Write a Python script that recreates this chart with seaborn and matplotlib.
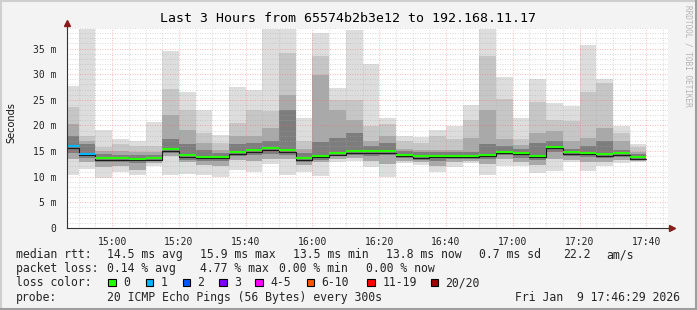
import numpy as np
import pandas as pd
import matplotlib
matplotlib.use("Agg")
import matplotlib.pyplot as plt
import matplotlib.transforms as mtransforms
from matplotlib.patches import Rectangle
from matplotlib.lines import Line2D
from matplotlib.ticker import MultipleLocator, FixedLocator, FuncFormatter
import seaborn as sns

# ---------------- data (ms) ----------------
sample_end = pd.date_range("2026-01-09 14:50", periods=35, freq="5min")
ping_max = [27.6, 38.8, 19.2, 17.3, 16.9, 20.6, 34.6, 26.6, 23.0, 18.2,
            27.4, 27.0, 38.8, 38.8, 21.5, 38.1, 27.3, 38.7, 32.0, 21.5,
            17.9, 17.7, 19.2, 19.9, 23.9, 38.8, 29.4, 21.5, 29.1, 24.4,
            23.7, 35.7, 29.1, 19.9, 16.3]
up_light = [23.6, 17.9, 15.7, 16.3, 16.0, 16.0, 27.2, 23.1, 18.6, 16.5,
            20.5, 23.1, 22.8, 34.1, 17.0, 33.6, 25.0, 25.0, 19.9, 20.2,
            17.0, 16.5, 17.9, 17.3, 21.0, 33.6, 25.2, 17.3, 24.5, 21.1,
            20.8, 26.6, 28.2, 18.6, 15.7]
up_mid = [20.2, 17.0, 15.0, 15.0, 14.8, 14.9, 22.1, 19.2, 16.5, 15.2,
          17.9, 17.9, 19.5, 26.0, 15.5, 29.9, 23.1, 21.1, 17.0, 17.9,
          15.5, 15.3, 15.3, 15.3, 17.6, 23.1, 17.3, 16.1, 18.6, 18.9,
          16.9, 17.6, 19.5, 16.9, 14.8]
up_dark = [17.9, 16.3, 14.5, 14.3, 14.2, 14.3, 17.3, 16.3, 15.2, 14.6,
           16.3, 16.5, 17.0, 23.1, 14.6, 16.8, 17.6, 18.5, 16.0, 16.6,
           15.0, 14.8, 14.8, 14.8, 14.9, 16.3, 16.0, 15.5, 16.6, 16.9,
           15.5, 16.0, 16.9, 15.3, 14.4]
median = [15.9, 14.5, 13.6, 13.6, 13.5, 13.6, 15.4, 14.2, 13.9, 13.9,
          14.8, 15.2, 15.6, 15.2, 13.6, 14.1, 14.6, 15.0, 15.0, 15.0,
          14.3, 14.0, 14.1, 14.1, 14.1, 14.3, 14.9, 14.7, 14.1, 15.8,
          14.8, 14.7, 14.4, 14.6, 13.8]
low_dark = [14.6, 13.6, 12.8, 12.8, 12.6, 13.0, 14.6, 13.3, 13.0, 13.1,
            14.0, 14.2, 14.5, 14.2, 12.9, 13.3, 14.0, 14.3, 14.1, 14.2,
            13.6, 13.3, 13.0, 13.4, 13.5, 13.4, 14.2, 13.7, 13.2, 14.8,
            14.0, 13.8, 13.6, 13.8, 13.3]
low_mid = [13.4, 12.8, 11.8, 12.1, 11.4, 12.6, 14.1, 12.8, 12.2, 12.0,
           13.2, 13.0, 13.4, 13.4, 12.2, 12.8, 13.4, 13.6, 13.0, 12.5,
           13.0, 12.8, 12.1, 12.8, 13.0, 12.5, 13.4, 12.8, 12.2, 13.5,
           13.3, 12.8, 12.9, 13.2, 13.0]
ping_min = [10.4, 11.5, 9.8, 11.0, 10.3, 12.1, 10.4, 10.6, 10.3, 9.9,
            11.3, 11.0, 12.5, 10.4, 11.0, 10.2, 12.8, 13.0, 11.9, 10.0,
            12.7, 12.3, 11.0, 11.8, 12.7, 10.4, 12.1, 12.0, 10.8, 11.2,
            12.8, 11.1, 12.1, 12.7, 12.8]
loss = [1, 1, 0, 0, 0, 0, 0, 0, 0, 0, 0, 0, 0, 0, 0, 0, 0, 0, 0, 0,
        0, 0, 0, 0, 0, 0, 0, 0, 0, 0, 0, 0, 0, 0, 0]

loss_labels = ["0", "1", "2", "3", "4-5", "6-10", "11-19", "20/20"]
loss_colors = ["#26ff00", "#00b8ff", "#0059ff", "#7e00ff", "#ff00ff",
               "#ff5500", "#ff0000", "#a00000"]
y_ticks = [0, 5, 10, 15, 20, 25, 30, 35]
x_tick_labels = ["15:00", "15:20", "15:40", "16:00", "16:20", "16:40",
                 "17:00", "17:20", "17:40"]

title = "Last 3 Hours from 65574b2b3e12 to 192.168.11.17"
stat_rows = [
    ["median rtt:", "14.5 ms avg", "15.9 ms max", "13.5 ms min",
     "13.8 ms now", "0.7 ms sd", "22.2", "am/s"],
    ["packet loss:", "0.14 % avg", "4.77 % max", "0.00 % min", "0.00 % now"],
]
probe_text = "20 ICMP Echo Pings (56 Bytes) every 300s"
stamp_text = "Fri Jan  9 17:46:29 2026"

# ---------------- layout ----------------
W, H = 697, 310
t0 = pd.Timestamp("2026-01-09 14:00")
graph_start = pd.Timestamp("2026-01-09 14:46:29")
graph_end = pd.Timestamp("2026-01-09 17:46:29")
def to_min(ts):
    return (ts - t0).total_seconds() / 60.0

t_end = np.array([to_min(t) for t in sample_end])
step = 5.0

sns.set_theme(style="white")
plt.rcParams["font.family"] = ["DejaVu Sans Mono", "DejaVu Sans"]

fig = plt.figure(figsize=(W / 100, H / 100), dpi=100, facecolor="#f3f3f3")
ax = fig.add_axes([67 / W, 82 / H, 601 / W, 200 / H])
ax.set_facecolor("white")

df = pd.DataFrame(dict(t=t_end, mx=ping_max, u2=up_light, u3=up_mid,
                       u4=up_dark, med=median, l3=low_dark, l2=low_mid,
                       mn=ping_min, loss=loss))

layers = [("mn", "mx", "#dddddd"), ("l2", "u2", "#c6c6c6"),
          ("l2", "u3", "#a9a9a9"), ("l3", "u4", "#7d7d7d")]
for lo, hi, col in layers:
    ax.bar(df["t"] - step, df[hi] - df[lo], bottom=df[lo], width=step,
           align="edge", color=col, linewidth=0, zorder=1)

def loss_idx(n):
    if n <= 3:
        return n
    if n <= 5:
        return 4
    if n <= 10:
        return 5
    if n <= 19:
        return 6
    return 7

# black step line under median
off = mtransforms.offset_copy(ax.transData, fig=fig, x=0, y=-1.5, units="dots")
step_df = pd.DataFrame(dict(t=np.r_[t_end[0] - step, t_end],
                            med=np.r_[median[0], median]))
sns.lineplot(data=step_df, x="t", y="med", drawstyle="steps-pre",
             color="#1a1a1a", lw=0.8, ax=ax, transform=off, zorder=4,
             estimator=None, sort=False)
ax.hlines(df["med"], df["t"] - step, df["t"],
          colors=[loss_colors[loss_idx(n)] for n in loss], lw=1.5, zorder=5)

# axes/grid
ax.set_xlim(to_min(graph_start), to_min(graph_end))
ax.set_ylim(0, 39.0)
ax.yaxis.set_major_locator(FixedLocator(y_ticks))
ax.yaxis.set_minor_locator(MultipleLocator(1))
ax.set_yticklabels(["0" if v == 0 else f"{v} m" for v in y_ticks])
major_x = [to_min(pd.Timestamp("2026-01-09 " + s)) for s in x_tick_labels]
ax.xaxis.set_major_locator(FixedLocator(major_x))
ax.xaxis.set_minor_locator(MultipleLocator(5))
ax.set_xticklabels(x_tick_labels)
ax.set_axisbelow(False)
ax.grid(which="minor", color="#a8a8a8", alpha=0.6, lw=0.6, ls=(0, (1, 2)))
ax.grid(which="major", color="#ff6060", alpha=0.6, lw=0.6, ls=(0, (1, 2)))
ax.set_xlabel("")
ax.set_ylabel("")
for s in ["top", "right"]:
    ax.spines[s].set_visible(False)
for s in ["left", "bottom"]:
    ax.spines[s].set_color("#333333")
    ax.spines[s].set_linewidth(0.8)
    ax.spines[s].set_zorder(6)
ax.tick_params(which="both", direction="out", color="#444444", width=0.6,
               labelsize=7, labelcolor="#222222")
ax.tick_params(which="major", length=2.5, pad=4)
ax.tick_params(which="minor", length=1.5)
ax.tick_params(axis="y", pad=5)

# axis arrows
ax.plot([0, 0], [1, 1.02], transform=ax.transAxes, color="#333333",
        lw=0.8, clip_on=False, zorder=6)
ax.plot([0], [1.025], marker="^", ms=4.5, color="#8b1a1a",
        transform=ax.transAxes, clip_on=False, zorder=7)
ax.plot([1, 1.004], [0, 0], transform=ax.transAxes, color="#333333",
        lw=0.8, clip_on=False, zorder=6)
ax.plot([1.007], [0], marker=">", ms=4.5, color="#8b1a1a",
        transform=ax.transAxes, clip_on=False, zorder=7)

def fx(px):
    return px / W
def fy(py):
    return 1 - py / H

fig.text(fx(348.5), fy(19), title, ha="center", va="center", fontsize=9.5,
         color="black")
fig.text(fx(11), fy(122.5), "Seconds", rotation=90, ha="center",
         va="center", fontsize=7, family="DejaVu Sans", color="#111111")
fig.text(fx(688), fy(5), "RRDTOOL / TOBI OETIKER", rotation=-90,
         ha="center", va="top", fontsize=5.6, color="#b4b4b4")

fs = 8.3
row1_x = [16, 107.3, 200, 293.3, 386, 479.3, 562.7, 606.7]
for txt, x in zip(stat_rows[0], row1_x):
    fig.text(fx(x), fy(258.3), txt, ha="left", va="baseline", fontsize=fs)
row2_x = [16, 107.3, 200, 279.3, 365.7]
for txt, x in zip(stat_rows[1], row2_x):
    fig.text(fx(x), fy(272.3), txt, ha="left", va="baseline", fontsize=fs)

fig.text(fx(16), fy(286.3), "loss color:", ha="left", va="baseline", fontsize=fs)
box_x = [108.3, 145.7, 182.7, 219.3, 255.3, 306.7, 367.3, 430.7]
lab_x = [123.3, 160.7, 197.3, 234.3, 270.7, 321.7, 382.3, 445.0]
for bx, lx, lab, col in zip(box_x, lab_x, loss_labels, loss_colors):
    fig.add_artist(Rectangle((fx(bx), fy(286)), 7.5 / W, 7.5 / H,
                             transform=fig.transFigure, facecolor=col,
                             edgecolor="black", lw=0.8))
    fig.text(fx(lx), fy(286.3), lab, ha="left", va="baseline", fontsize=fs)

fig.text(fx(16), fy(300.7), "probe:", ha="left", va="baseline", fontsize=fs)
fig.text(fx(107.3), fy(300.7), probe_text, ha="left", va="baseline", fontsize=fs)
fig.text(fx(680), fy(300.7), stamp_text, ha="right", va="baseline", fontsize=fs)

# frame (3D shade)
fig.add_artist(Line2D([0, 1], [1 - 1 / H, 1 - 1 / H], transform=fig.transFigure,
                      color="#cfcfcf", lw=1.5))
fig.add_artist(Line2D([1 / W, 1 / W], [0, 1], transform=fig.transFigure,
                      color="#cfcfcf", lw=1.5))
fig.add_artist(Line2D([0, 1], [1 / H, 1 / H], transform=fig.transFigure,
                      color="#9e9e9e", lw=1.5))
fig.add_artist(Line2D([1 - 1 / W, 1 - 1 / W], [0, 1], transform=fig.transFigure,
                      color="#9e9e9e", lw=1.5))

fig.savefig("out.png", dpi=100, facecolor=fig.get_facecolor())
